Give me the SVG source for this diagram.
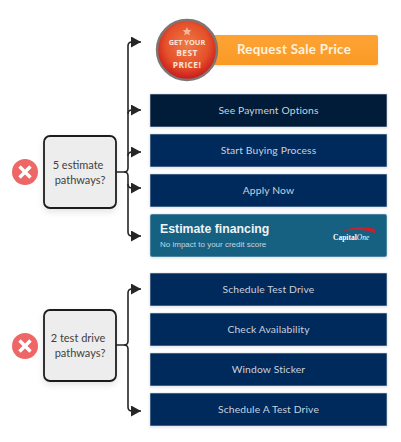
<svg xmlns="http://www.w3.org/2000/svg" width="401" height="442" viewBox="0 0 401 442">
<style>
.btn{stroke:#d3dbe6;stroke-width:.6;filter:url(#sh)}
.navy{fill:#012a5b}
.lbl{font-family:"Lato","Liberation Sans",sans-serif;font-size:10.3px;fill:#c9d1dc;text-anchor:middle;letter-spacing:.15px}
.box{fill:#ededed;stroke:#1f1f1f;stroke-width:1.8;filter:url(#sh2)}
.q{font-family:"Lato","Liberation Sans",sans-serif;font-size:11px;fill:#3f3f3f;text-anchor:middle}
.line{fill:none;stroke:#262626;stroke-width:1.6}
.x{stroke:#fff;stroke-width:3.4}
</style>
<defs>
<marker id="arr" markerUnits="userSpaceOnUse" markerWidth="12" markerHeight="12" refX="10" refY="5.500" orient="auto"><path d="M0 0L10 5.500L0 11Z" fill="#262626"/></marker>
<filter id="sh" x="-5%" y="-15%" width="110%" height="135%"><feDropShadow dx="0" dy="1" stdDeviation="1" flood-color="#000" flood-opacity=".12"/></filter>
<filter id="sh2" x="-20%" y="-20%" width="140%" height="140%"><feDropShadow dx="0" dy="3" stdDeviation="3" flood-color="#000" flood-opacity=".1"/></filter>
<radialGradient id="ball" cx=".5" cy=".42" r=".6"><stop offset="0" stop-color="#ef7a46"/><stop offset=".6" stop-color="#e5512a"/><stop offset="1" stop-color="#c4101a"/></radialGradient>
<linearGradient id="or" x1="0" y1="0" x2="0" y2="1"><stop offset="0" stop-color="#fea334"/><stop offset="1" stop-color="#f99a25"/></linearGradient>
</defs>

<g id="connectors">
<path class="line" d="M116 172H124Q128 172 128 168V46Q128 42 132 42H141" marker-end="url(#arr)"/>
<path class="line" d="M128 114Q128 110 132 110H141" marker-end="url(#arr)"/>
<path class="line" d="M128 156Q128 152 132 152H141" marker-end="url(#arr)"/>
<path class="line" d="M124 172Q128 172 128 176V232Q128 236 132 236H141" marker-end="url(#arr)"/>
<path class="line" d="M128 184Q128 188 132 188H141" marker-end="url(#arr)"/>
<path class="line" d="M116 345H124Q128 345 128 341V293Q128 289 132 289H141" marker-end="url(#arr)"/>
<path class="line" d="M124 345Q128 345 128 349V407Q128 411 132 411H141" marker-end="url(#arr)"/>
</g>

<g id="x1"><circle cx="25" cy="172" r="13" fill="#ee6666"/><path class="x" d="M19.500 166.500L30.500 177.500M30.500 166.500L19.500 177.500"/></g>
<g id="q1"><rect class="box" x="44" y="136" width="72" height="72" rx="6"/><text class="q" x="78" y="169">5 estimate</text><text class="q" x="80" y="183.500">pathways?</text></g>
<g id="x2"><circle cx="25" cy="346" r="13" fill="#ee6666"/><path class="x" d="M19.500 340.500L30.500 351.500M30.500 340.500L19.500 351.500"/></g>
<g id="q2"><rect class="box" x="44" y="310" width="72" height="71" rx="6"/><text class="q" x="78" y="342">2 test drive</text><text class="q" x="80" y="357">pathways?</text></g>

<g id="sale">
<rect x="205" y="35" width="173" height="30" rx="2" fill="url(#or)" filter="url(#sh)"/>
<text x="294" y="54" font-family="Lato,'Liberation Sans',sans-serif" font-size="13.300" font-weight="700" fill="#fff3e0" text-anchor="middle" letter-spacing=".3">Request Sale Price</text>
<circle cx="187" cy="50" r="30" fill="url(#ball)" stroke="#7d7672" stroke-width="2.400"/>
<path d="M187 27l1.300 2.900 3.100.3-2.300 2.100.7 3.100-2.800-1.600-2.800 1.600.7-3.100-2.300-2.100 3.100-.3z" fill="#f6b79b"/>
<g font-family="'Open Sans','Liberation Sans',sans-serif" font-weight="700" fill="#fbe3d6" text-anchor="middle"><text x="187" y="44.500" font-size="7.400">GET YOUR</text><text x="187" y="56" font-size="8.400" letter-spacing=".4">BEST</text><text x="187" y="68" font-size="8.400" letter-spacing=".4">PRICE!</text></g>
</g>

<g id="b1"><rect class="btn" x="150" y="94" width="237" height="33" fill="#001a38"/><text class="lbl" x="268.500" y="114">See Payment Options</text></g>
<g id="b2"><rect class="btn navy" x="150" y="134" width="237" height="33"/><text class="lbl" x="268.500" y="154">Start Buying Process</text></g>
<g id="b3"><rect class="btn navy" x="150" y="174" width="237" height="33"/><text class="lbl" x="268.500" y="194">Apply Now</text></g>
<g id="b4">
<rect class="btn" x="150" y="214" width="237" height="43" rx="2" fill="#156082"/>
<text x="160" y="233" font-family="'Liberation Sans',sans-serif" font-size="12.300" font-weight="700" fill="#eef3f6">Estimate financing</text>
<text x="160" y="247" font-family="'Liberation Sans',sans-serif" font-size="8" fill="#c5d6df">No impact to your credit score</text>
<path d="M341 232Q357 224 375 229L375 233Q358 227 341 232Z" fill="#c8202c"/>
<text x="333" y="240" font-family="'Liberation Serif',serif" font-size="7.500" font-weight="700" fill="#fff">Capital<tspan font-style="italic" font-weight="400">One</tspan></text>
</g>
<g id="b5"><rect class="btn navy" x="150" y="273" width="237" height="33"/><text class="lbl" x="268.500" y="293">Schedule Test Drive</text></g>
<g id="b6"><rect class="btn navy" x="150" y="313" width="237" height="33"/><text class="lbl" x="268.500" y="333">Check Availability</text></g>
<g id="b7"><rect class="btn navy" x="150" y="353" width="237" height="33"/><text class="lbl" x="268.500" y="373">Window Sticker</text></g>
<g id="b8"><rect class="btn navy" x="150" y="393" width="237" height="33"/><text class="lbl" x="268.500" y="413">Schedule A Test Drive</text></g>
</svg>
